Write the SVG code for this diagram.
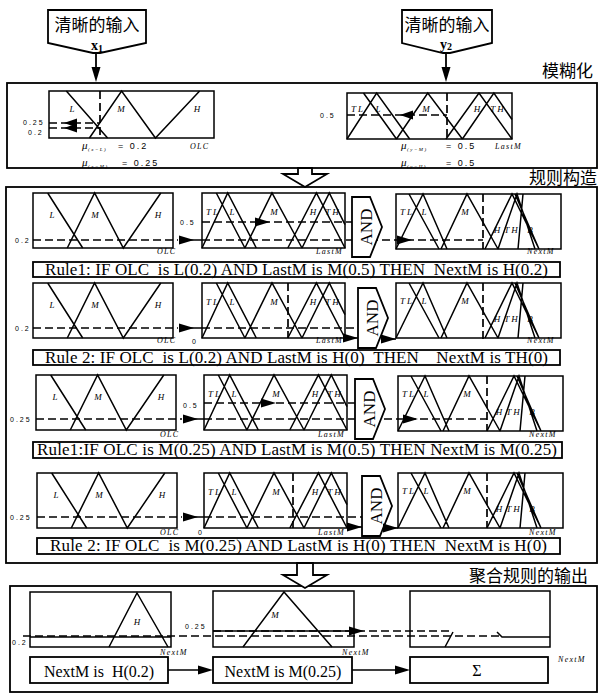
<svg xmlns="http://www.w3.org/2000/svg" xmlns:xlink="http://www.w3.org/1999/xlink" width="600" height="693" viewBox="0 0 600 693">
<style>
.b{fill:none;stroke:#000;stroke-width:1.8}
.bw{fill:#fff;stroke:#000;stroke-width:1.8}
.t{fill:none;stroke:#000;stroke-width:1.5;vector-effect:non-scaling-stroke}
.d{fill:none;stroke:#000;stroke-width:1.7;stroke-dasharray:8 4}
.ah{fill:#000;stroke:none}
.lab{font-family:"Liberation Serif",serif;font-style:italic;font-size:9px}
.ax{font-family:"Liberation Serif",serif;font-style:italic;font-size:8px;letter-spacing:1.3px}
.num{font-family:"Liberation Sans",sans-serif;font-size:7px;letter-spacing:2px}
.mu{font-family:"Liberation Serif",serif;font-style:italic;font-size:11px}
.sub{font-family:"Liberation Serif",serif;font-style:italic;font-size:5px;letter-spacing:1.5px}
.eq{font-family:"Liberation Sans",sans-serif;font-size:9px;letter-spacing:2px}
.rule{font-family:"Liberation Serif",serif;font-size:17px;white-space:pre}
.and{font-family:"Liberation Serif",serif;font-size:17px}
.box{font-family:"Liberation Serif",serif;font-size:16px;white-space:pre}
.cn{font-family:"Noto Sans CJK SC",sans-serif;font-size:17px}
.in{font-family:"Liberation Serif",serif;font-weight:bold;font-size:14px}
</style>
<defs>
  <g id="olcL">
    <rect class="t" x="0" y="0" width="140" height="55"/>
    <path class="t" d="M14.7,0L49.7,55M34.3,55L61.6,0L90.3,55L127.8,0"/>
  </g>
  <g id="olc">
    <use xlink:href="#olcL"/>
    <text class="lab" x="19" y="25" text-anchor="middle">L</text>
    <text class="lab" x="62" y="25" text-anchor="middle">M</text>
    <text class="lab" x="125" y="25" text-anchor="middle">H</text>
  </g>
  <g id="lastL">
    <rect class="t" x="0" y="0" width="143" height="55"/>
    <path class="t" d="M14.3,0L42.9,55M0,55L25.7,0L54.3,55M42.9,55L70,0L100,55M85.8,55L114.4,0L143,55M100,55L127.3,0L143,31.7"/>
  </g>
  <g id="last">
    <use xlink:href="#lastL"/>
    <text class="lab" x="11" y="22" text-anchor="middle" letter-spacing="2">TL</text>
    <text class="lab" x="30" y="22" text-anchor="middle">L</text>
    <text class="lab" x="72" y="22" text-anchor="middle">M</text>
    <text class="lab" x="111" y="22" text-anchor="middle">H</text>
    <text class="lab" x="131" y="22" text-anchor="middle" letter-spacing="2">TH</text>
  </g>
  <g id="next">
    <rect class="t" x="0" y="0" width="165" height="55"/>
    <path class="t" d="M13,0L43,55M0,55L27,0L51,55M45,55L71,0L102,55M89,55L116,0L143,55M102,55L121,0L139,55M122,55L127,0M119,0L143,55"/>
    <text class="lab" x="11" y="21" text-anchor="middle" letter-spacing="2">TL</text>
    <text class="lab" x="28" y="21" text-anchor="middle">L</text>
    <text class="lab" x="69" y="21" text-anchor="middle">M</text>
    <text class="lab" x="101" y="39" text-anchor="middle">H</text>
    <text class="lab" x="116" y="39" text-anchor="middle" letter-spacing="2">TH</text>
    <text class="lab" x="134" y="39" text-anchor="middle">B</text>
  </g>
  <g id="and">
    <path class="bw" d="M0,0H18L30,30L18,60H0Z"/>
    <text class="and" transform="translate(20,30) rotate(-90)" text-anchor="middle">AND</text>
  </g>
  <path id="ahR" class="ah" d="M-15,-4.5L0,0L-15,4.5Z"/>
  <path id="ahL" class="ah" d="M13,-4.5L0,0L13,4.5Z"/>
</defs>

<!-- inputs -->
<g id="input-x1">
  <path class="b" d="M48,10H146V43L100,53H93L48,43Z"/>
  <text class="cn" x="97" y="31" font-size="16" text-anchor="middle">清晰的输入</text>
  <text class="in" x="91" y="50">x<tspan font-size="10" dy="2">1</tspan></text>
</g>
<g id="input-y2">
  <path class="b" d="M402,10H492V43L450,53H443L402,43Z"/>
  <text class="cn" x="447" y="31" font-size="16" text-anchor="middle">清晰的输入</text>
  <text class="in" x="440" y="49">y<tspan font-size="10" dy="1">2</tspan></text>
</g>

<!-- fuzzification -->
<g id="fuzzify">
  <rect class="b" x="7" y="83" width="590" height="85"/>
  <text class="cn" x="593" y="77" text-anchor="end">模糊化</text>
  <g id="fuzz-olc">
    <use xlink:href="#olcL" transform="translate(49,91) scale(1.1786,0.8545)"/>
    <text class="lab" x="72" y="112" text-anchor="middle">L</text>
    <text class="lab" x="121" y="112" text-anchor="middle">M</text>
    <text class="lab" x="197" y="112" text-anchor="middle">H</text>
    <path class="d" d="M100,91V138M49,123H100M49,128H100"/>
    <use xlink:href="#ahL" x="64" y="123"/>
    <use xlink:href="#ahL" x="64" y="128"/>
    <text class="num" x="23" y="125">0.25</text>
    <text class="num" x="28" y="135">0.2</text>
    <text class="mu" x="82" y="149">μ</text><text class="sub" x="88" y="151">(x=L)</text><text class="eq" x="118" y="149">= 0.2</text>
    <text class="ax" x="190" y="149">OLC</text>
    <text class="mu" x="82" y="166">μ</text><text class="sub" x="88" y="168">(x=M)</text><text class="eq" x="122" y="166">= 0.25</text>
  </g>
  <g id="fuzz-last">
    <use xlink:href="#lastL" transform="translate(347,93) scale(1.1538,0.8364)"/>
    <text class="lab" x="358" y="112" text-anchor="middle" letter-spacing="2">TL</text>
    <text class="lab" x="378" y="112" text-anchor="middle">L</text>
    <text class="lab" x="426" y="112" text-anchor="middle">M</text>
    <text class="lab" x="477" y="112" text-anchor="middle">H</text>
    <text class="lab" x="498" y="112" text-anchor="middle" letter-spacing="2">TH</text>
    <path class="d" d="M447,93V139M347,115H447"/>
    <use xlink:href="#ahL" x="400" y="115"/>
    <text class="num" x="320" y="118">0.5</text>
    <text class="mu" x="401" y="149">μ</text><text class="sub" x="407" y="151">(y=M)</text><text class="eq" x="446" y="149">= 0.5</text>
    <text class="ax" x="495" y="149">LastM</text>
    <text class="mu" x="401" y="166">μ</text><text class="sub" x="407" y="168">(y=H)</text><text class="eq" x="446" y="166">= 0.5</text>
  </g>
</g>

<!-- rules -->
<g id="rules">
  <rect class="b" x="6" y="187" width="591" height="376"/>
  <text class="cn" x="597" y="184" text-anchor="end">规则构造</text>

  <g id="rule1">
    <use xlink:href="#olc" x="33" y="193"/>
    <use xlink:href="#last" x="202" y="193"/>
    <use xlink:href="#next" x="396" y="194"/>
    <path class="d" d="M33,240H178M202,240H483M202,222H355M483,194V249"/>
    <path class="t" d="M190,240H202"/>
    <use xlink:href="#ahR" x="194" y="240"/>
    <use xlink:href="#ahR" x="270" y="222"/>
    <use xlink:href="#and" x="352" y="197"/>
    <use xlink:href="#ahR" x="412" y="240"/>
    <text class="num" x="15" y="243">0.2</text>
    <text class="num" x="180" y="225">0.5</text>
    <text class="ax" x="157" y="254">OLC</text>
    <text class="ax" x="316" y="254">LastM</text>
    <text class="ax" x="527" y="254">NextM</text>
    <rect class="b" x="33" y="262" width="527" height="15"/>
    <text class="rule" x="45" y="275" textLength="503" lengthAdjust="spacing">Rule1: IF OLC  is L(0.2) AND LastM is M(0.5) THEN  NextM is H(0.2)</text>
  </g>

  <g id="rule2">
    <use xlink:href="#olc" x="33" y="283"/>
    <use xlink:href="#last" x="202" y="283"/>
    <use xlink:href="#next" x="396" y="283"/>
    <path class="d" d="M33,328H178M202,328H358M288,283V338M483,283V339"/>
    <path class="t" d="M190,328H202M345,338H358M388,339H396"/>
    <use xlink:href="#ahR" x="194" y="328"/>
    <use xlink:href="#ahR" x="358" y="338"/>
    <use xlink:href="#and" x="358" y="288"/>
    <use xlink:href="#ahR" x="396" y="339"/>
    <text class="num" x="15" y="331">0.2</text>
    <text class="num" x="192" y="344">0</text>
    <text class="ax" x="157" y="343">OLC</text>
    <text class="ax" x="316" y="343">LastM</text>
    <text class="ax" x="527" y="343">NextM</text>
    <rect class="b" x="33" y="350" width="527" height="15"/>
    <text class="rule" x="45" y="363" textLength="503" lengthAdjust="spacing">Rule 2: IF OLC  is L(0.2) AND LastM is H(0)  THEN    NextM is TH(0)</text>
  </g>

  <g id="rule3">
    <use xlink:href="#olc" x="36" y="375"/>
    <use xlink:href="#last" x="204" y="375"/>
    <use xlink:href="#next" x="398" y="376"/>
    <path class="d" d="M36,419H182M204,419H487M204,403H355M487,376V431"/>
    <path class="t" d="M194,419H204"/>
    <use xlink:href="#ahR" x="198" y="419"/>
    <use xlink:href="#ahR" x="276" y="403"/>
    <use xlink:href="#and" x="355" y="379"/>
    <use xlink:href="#ahR" x="418" y="419"/>
    <text class="num" x="10" y="422">0.25</text>
    <text class="num" x="183" y="408">0.5</text>
    <text class="ax" x="160" y="437">OLC</text>
    <text class="ax" x="318" y="437">LastM</text>
    <text class="ax" x="529" y="437">NextM</text>
    <rect class="b" x="33" y="442" width="529" height="16"/>
    <text class="rule" x="37" y="455" textLength="520" lengthAdjust="spacing">Rule1:IF OLC is M(0.25) AND LastM is M(0.5) THEN NextM is M(0.25)</text>
  </g>

  <g id="rule4">
    <use xlink:href="#olc" x="37" y="473"/>
    <use xlink:href="#last" x="204" y="473"/>
    <use xlink:href="#next" x="398" y="473"/>
    <path class="d" d="M37,517H182M204,517H362M293,473V528M487,473V528"/>
    <path class="t" d="M194,517H204M347,527H362M392,528H398"/>
    <use xlink:href="#ahR" x="198" y="517"/>
    <use xlink:href="#ahR" x="362" y="527"/>
    <use xlink:href="#and" x="362" y="476"/>
    <use xlink:href="#ahR" x="398" y="528"/>
    <text class="num" x="10" y="520">0.25</text>
    <text class="num" x="198" y="535">0</text>
    <text class="ax" x="160" y="535">OLC</text>
    <text class="ax" x="318" y="535">LastM</text>
    <text class="ax" x="529" y="535">NextM</text>
    <rect class="b" x="37" y="538" width="523" height="16"/>
    <text class="rule" x="50" y="551" textLength="497" lengthAdjust="spacing">Rule 2: IF OLC  is M(0.25) AND LastM is H(0) THEN  NextM is H(0)</text>
  </g>
</g>

<!-- aggregation -->
<g id="aggregate">
  <rect class="b" x="10" y="586" width="587" height="106"/>
  <text class="cn" x="588" y="582" font-size="16.5" text-anchor="end">聚合规则的输出</text>
  <g id="agg-h">
    <rect class="t" x="30" y="592" width="141" height="55"/>
    <path class="t" d="M109,647L137,593L168,647M30,637H171"/>
    <text class="lab" x="137" y="625" text-anchor="middle">H</text>
    <text class="num" x="12" y="645">0.2</text>
    <text class="ax" x="160" y="655">NextM</text>
  </g>
  <g id="agg-m">
    <rect class="t" x="213" y="591" width="141" height="56"/>
    <path class="t" d="M243,647L284,592L332,647M213,631H354"/>
    <text class="lab" x="275" y="618" text-anchor="middle">M</text>
    <text class="num" x="185" y="629">0.25</text>
    <text class="ax" x="342" y="655">NextM</text>
  </g>
  <g id="agg-sum">
    <rect class="t" x="410" y="591" width="140" height="56"/>
    <path class="t" d="M445,647L453,632M497,632L502,637H550"/>
    <text class="ax" x="558" y="662">NextM</text>
  </g>
  <path class="d" d="M23,636H500M213,631H453"/>
  <use xlink:href="#ahR" x="364" y="631"/>
  <g id="box-h">
    <rect class="b" x="30" y="657" width="138" height="26"/>
    <text class="box" x="99" y="677" text-anchor="middle">NextM is  H(0.2)</text>
  </g>
  <g id="box-m">
    <rect class="b" x="213" y="657" width="139" height="26"/>
    <text class="box" x="283" y="677" text-anchor="middle">NextM is M(0.25)</text>
  </g>
  <g id="box-sum">
    <rect class="b" x="410" y="657" width="138" height="26"/>
    <text class="box" x="477" y="676" text-anchor="middle">Σ</text>
  </g>
</g>

<!-- connectors -->
<g id="connectors">
  <path class="b" d="M96,53V70"/>
  <use xlink:href="#ahR" transform="translate(96,82) rotate(90)"/>
  <path class="b" d="M446,53V70"/>
  <use xlink:href="#ahR" transform="translate(446,82) rotate(90)"/>
  <path class="bw" d="M298,168H312V174H327L305,187L283,174H298Z"/>
  <path class="bw" d="M297,563H313V575H327L305,588L283,575H297Z"/>
  <path class="t" d="M168,670H198M352,670H395"/>
  <use xlink:href="#ahR" x="213" y="670"/>
  <use xlink:href="#ahR" x="410" y="670"/>
</g>
</svg>
